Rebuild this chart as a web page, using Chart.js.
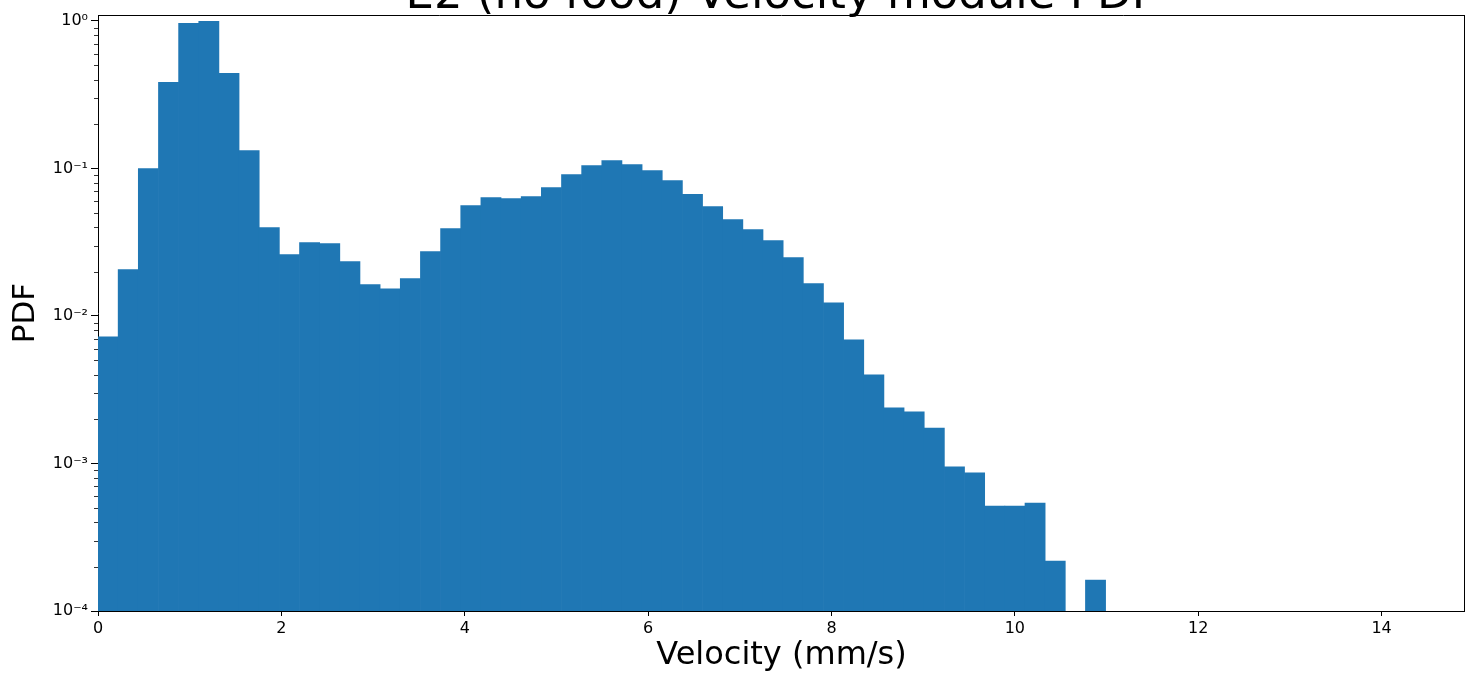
<!DOCTYPE html>
<html>
<head>
<meta charset="utf-8">
<script src="https://cdn.jsdelivr.net/npm/chart.js@4.4.0/dist/chart.umd.min.js"></script>
<style>
  html, body { margin: 0; padding: 0; background: #fff; }
</style>
</head>
<body>
<canvas id="pdf" width="1465" height="675"></canvas>
<script>
// velocity module histogram, E2 (no food), density on a log axis
const TITLE = 'E2 (no food) Velocity module PDF';
const X_LABEL = 'Velocity (mm/s)';
const Y_LABEL = 'PDF';

const BIN_WIDTH = 0.2198; // mm/s
const X_MAX = 14.91;
const Y_MIN = 1e-4;
const Y_MAX = 1.098;

// normalised counts per bin, first bin starts at 0 mm/s (null = empty bin)
const pdfValues = [
  0.00723, 0.0206, 0.100, 0.384, 0.965, 0.995, 0.442, 0.1325, 0.0398, 0.0261,
  0.0315, 0.0310, 0.0234, 0.0163, 0.0153, 0.0179, 0.0273, 0.0392, 0.0561, 0.0636,
  0.0625, 0.0645, 0.0743, 0.0910, 0.1047, 0.1133, 0.1064, 0.0969, 0.0829, 0.0667,
  0.0552, 0.0451, 0.0386, 0.0325, 0.0249, 0.0166, 0.0123, 0.0069, 0.00399, 0.00238,
  0.00224, 0.00174, 0.000948, 0.000863, 0.000515, 0.000515, 0.00054, 0.000218, null, 0.000162
];
const binCenters = pdfValues.map((_, i) => (i + 0.5) * BIN_WIDTH);

const xTicks = [0, 2, 4, 6, 8, 10, 12, 14];
const yDecades = [1e-4, 1e-3, 1e-2, 1e-1, 1e0];
const yDecadeLabels = ['10⁻⁴', '10⁻³', '10⁻²', '10⁻¹', '10⁰'];

const BAR_COLOR = '#1f77b4';
const FONT = '"DejaVu Sans", "Liberation Sans", sans-serif';

Chart.defaults.font.family = FONT;
Chart.defaults.color = '#000';

function isDecade(v) {
  const e = Math.log10(v);
  return Math.abs(e - Math.round(e)) < 1e-9;
}

// title sits above the axes box, partly off the top of the canvas
const titlePlugin = {
  id: 'topTitle',
  afterDraw(chart) {
    const { ctx, chartArea } = chart;
    ctx.save();
    ctx.font = '45px ' + FONT;
    ctx.fillStyle = '#000';
    ctx.textAlign = 'center';
    ctx.textBaseline = 'alphabetic';
    ctx.fillText(TITLE, (chartArea.left + chartArea.right) / 2, 8);
    ctx.restore();
  }
};

// top/right spines and the short minor ticks on the log axis
const framePlugin = {
  id: 'frame',
  afterDraw(chart) {
    const { ctx, chartArea } = chart;
    const { left, right, top, bottom } = chartArea;
    ctx.save();
    ctx.strokeStyle = '#000';
    ctx.lineWidth = 1;
    ctx.beginPath();
    ctx.moveTo(left, top + 0.5);
    ctx.lineTo(right, top + 0.5);
    ctx.moveTo(right - 0.5, top);
    ctx.lineTo(right - 0.5, bottom);
    ctx.stroke();

    const y = chart.scales.y;
    ctx.beginPath();
    y.ticks.forEach(t => {
      if (t.major) return;
      const py = Math.round(y.getPixelForValue(t.value)) + 0.5;
      ctx.moveTo(left - 4, py);
      ctx.lineTo(left, py);
    });
    ctx.lineWidth = 0.8;
    ctx.stroke();
    ctx.restore();
  }
};

new Chart(document.getElementById('pdf'), {
  type: 'bar',
  data: {
    datasets: [{
      label: Y_LABEL,
      data: binCenters.map((x, i) => ({ x, y: pdfValues[i] })),
      backgroundColor: BAR_COLOR,
      borderWidth: 0,
      barPercentage: 1,
      categoryPercentage: 1
    }]
  },
  options: {
    responsive: false,
    animation: false,
    devicePixelRatio: 1,
    layout: { padding: { top: 15, right: 0, left: 0, bottom: 0 } },
    plugins: {
      legend: { display: false },
      tooltip: { enabled: false },
      title: { display: false }
    },
    scales: {
      x: {
        type: 'linear',
        min: 0,
        max: X_MAX,
        offset: false,
        afterBuildTicks: scale => {
          scale.ticks = xTicks.map(v => ({ value: v }));
        },
        afterFit: scale => { scale.height = 64; },
        ticks: {
          autoSkip: false,
          maxRotation: 0,
          padding: 3,
          font: { size: 16 },
          color: '#000'
        },
        grid: {
          offset: false,
          drawOnChartArea: false,
          drawTicks: true,
          tickLength: 5,
          color: '#000'
        },
        border: { display: true, color: '#000', width: 1 },
        title: {
          display: true,
          text: X_LABEL,
          font: { size: 32, lineHeight: 1 },
          color: '#000',
          padding: { top: 0, bottom: 3 }
        }
      },
      y: {
        type: 'logarithmic',
        min: Y_MIN,
        max: Y_MAX,
        afterBuildTicks: scale => {
          const ticks = [];
          yDecades.forEach(d => {
            for (let m = 1; m <= 9; m++) {
              const v = m * d;
              if (v <= Y_MAX + 1e-12) ticks.push({ value: v, major: m === 1 });
            }
          });
          scale.ticks = ticks;
        },
        afterFit: scale => { scale.width = 98; },
        ticks: {
          autoSkip: false,
          padding: 3,
          font: { size: 16 },
          color: '#000',
          callback: value => {
            if (!isDecade(value)) return '';
            const i = yDecades.findIndex(d => Math.abs(Math.log10(d) - Math.log10(value)) < 1e-9);
            return i >= 0 ? yDecadeLabels[i] : '';
          }
        },
        grid: {
          drawOnChartArea: false,
          drawTicks: true,
          tickLength: 7,
          tickColor: c => (c.tick && c.tick.major ? '#000' : 'rgba(0,0,0,0)')
        },
        border: { display: true, color: '#000', width: 1 },
        title: {
          display: true,
          text: Y_LABEL,
          font: { size: 31, lineHeight: 1 },
          color: '#000',
          padding: { top: 10, bottom: 0 }
        }
      }
    }
  },
  plugins: [titlePlugin, framePlugin]
});
</script>
</body>
</html>
